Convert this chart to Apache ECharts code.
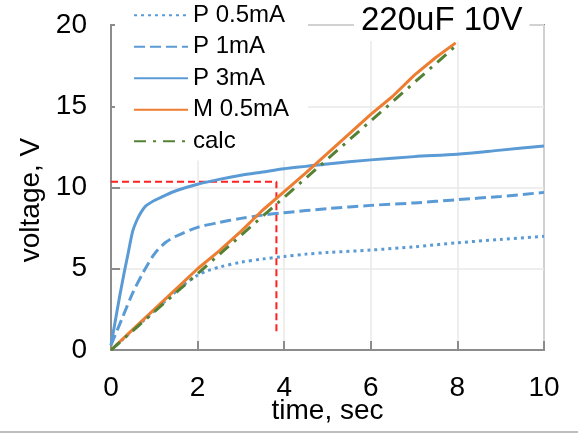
<!DOCTYPE html>
<html>
<head>
<meta charset="utf-8">
<script src="https://cdn.jsdelivr.net/npm/echarts@6/dist/echarts.min.js"></script>
<style>
html,body{margin:0;padding:0;background:#fff;}
#c{width:578px;height:433px;}
</style>
</head>
<body>
<div id="c"></div>
<script>
// ---- data ----
const seriesNames = ['P 0.5mA', 'P 1mA', 'P 3mA', 'M 0.5mA', 'calc'];
const xTicks = [0, 2, 4, 6, 8, 10];
const yTicks = [0, 5, 10, 15, 20];

const tP05 = [0, 0.5, 1, 1.5, 1.75, 2, 2.25, 2.5, 3, 3.5, 4, 4.5, 5, 6, 7, 8, 9, 10];
const vP05 = [0, 1.2, 2.4, 3.6, 4.15, 4.6, 4.9, 5.1, 5.4, 5.6, 5.75, 5.9, 6.0, 6.15, 6.35, 6.6, 6.8, 7.0];

const tP1 = [0, 0.25, 0.5, 0.75, 1, 1.25, 1.5, 2, 2.5, 3, 3.5, 4, 5, 6, 7, 8, 9, 10];
const vP1 = [0.3, 1.9, 3.5, 4.8, 5.9, 6.6, 7.0, 7.55, 7.85, 8.1, 8.3, 8.45, 8.7, 8.9, 9.05, 9.25, 9.45, 9.7];

const tP3 = [0, 0.1, 0.2, 0.3, 0.4, 0.5, 0.6, 0.7, 0.8, 1.0, 1.2, 1.5, 2, 2.5, 3, 3.5, 4, 4.5, 5, 6, 7, 8, 9, 10];
const vP3 = [0.3, 1.8, 3.3, 4.7, 6.0, 7.3, 8.0, 8.5, 8.85, 9.2, 9.45, 9.8, 10.2, 10.5, 10.75, 10.95, 11.15, 11.3, 11.45, 11.7, 11.9, 12.05, 12.3, 12.55];

const tM05 = [0, 0.5, 1, 1.5, 2, 2.5, 3, 3.5, 4, 4.5, 5, 5.5, 6, 6.5, 7, 7.5, 7.96];
const vM05 = [0, 1.25, 2.5, 3.75, 5.0, 6.1, 7.3, 8.6, 9.75, 10.9, 12.1, 13.3, 14.5, 15.6, 16.9, 18.0, 18.9];

const tCalc = [0, 8];
const vCalc = [0, 18.8];

const tMarker = [0, 3.82, 3.82];
const vMarker = [10.36, 10.36, 0.92];

// ---- helpers ----
const pairs = (xs, ys) => xs.map((x, i) => [x, ys[i]]);
const FONT = 'Liberation Sans, Arial, sans-serif';
const BLUE = '#5B9BD5', ORANGE = '#ED7D31', GREEN = '#548235', RED = '#FF2020';
const AXIS_GRAY = '#8c8c8c';

const chart = echarts.init(document.getElementById('c'), null, {renderer: 'canvas'});

chart.setOption({
  backgroundColor: '#fff',
  animation: false,
  title: {
    text: '220uF 10V',
    left: 354,
    top: 1,
    padding: [0, 7, 0, 7],
    backgroundColor: '#fff',
    textStyle: {fontFamily: FONT, fontSize: 33, fontWeight: 'normal', color: '#000', lineHeight: 40}
  },
  legend: {
    data: seriesNames,
    orient: 'vertical',
    left: 115,
    top: 0,
    padding: [2, 19, 6, 18],
    backgroundColor: '#fff',
    itemWidth: 54,
    itemHeight: 14,
    itemGap: 5,
    itemStyle: {color: 'rgba(0,0,0,0)', borderWidth: 0, opacity: 0},
    textStyle: {fontFamily: FONT, fontSize: 24, color: '#000', lineHeight: 26.5}
  },
  grid: {
    left: 111, right: 34, top: 25, bottom: 83,
    containLabel: false, outerBoundsMode: 'none',
    show: true, borderColor: AXIS_GRAY, borderWidth: 2, backgroundColor: 'transparent'
  },
  xAxis: {
    type: 'value', min: xTicks[0], max: xTicks[xTicks.length - 1], interval: 2,
    name: 'time, sec', nameLocation: 'middle', nameGap: 47, nameMoveOverlap: false,
    nameTextStyle: {fontFamily: FONT, fontSize: 28, color: '#000'},
    axisLine: {show: true, lineStyle: {color: AXIS_GRAY, width: 2}},
    axisTick: {show: true, inside: true, length: 9, lineStyle: {color: AXIS_GRAY, width: 2}},
    axisLabel: {fontFamily: FONT, fontSize: 28, color: '#000', margin: 24},
    splitLine: {show: true, lineStyle: {color: '#e8e8e8', width: 1.5}}
  },
  yAxis: {
    type: 'value', min: yTicks[0], max: yTicks[yTicks.length - 1], interval: 5,
    axisLine: {show: true, lineStyle: {color: AXIS_GRAY, width: 2}},
    axisTick: {show: true, inside: true, length: 9, lineStyle: {color: AXIS_GRAY, width: 2}},
    axisLabel: {fontFamily: FONT, fontSize: 28, color: '#000', margin: 24},
    splitLine: {show: true, lineStyle: {color: '#e8e8e8', width: 1.5}}
  },
  graphic: [
    {type: 'text', x: 31, y: 200, rotation: Math.PI / 2, z: 10,
     style: {text: 'voltage, V', font: '28px ' + FONT, fill: '#000', textAlign: 'center', textVerticalAlign: 'middle'}},
    {type: 'rect', shape: {x: 0, y: 431, width: 578, height: 2}, style: {fill: '#bdbdbd'}, z: 10}
  ],
  series: [
    {name: 'marker', type: 'line', data: pairs(tMarker, vMarker), symbol: 'none', silent: true,
     lineStyle: {color: RED, width: 2, type: [7, 4]}, z: 1},
    {name: seriesNames[0], type: 'line', data: pairs(tP05, vP05), symbol: 'none', smooth: 0.3,
     lineStyle: {color: BLUE, width: 3, type: [3, 4]}, itemStyle: {color: BLUE}, z: 2},
    {name: seriesNames[1], type: 'line', data: pairs(tP1, vP1), symbol: 'none', smooth: 0.3,
     lineStyle: {color: BLUE, width: 3, type: [11, 5]}, itemStyle: {color: BLUE}, z: 2},
    {name: seriesNames[2], type: 'line', data: pairs(tP3, vP3), symbol: 'none', smooth: 0.3,
     lineStyle: {color: BLUE, width: 3}, itemStyle: {color: BLUE}, z: 2},
    {name: seriesNames[3], type: 'line', data: pairs(tM05, vM05), symbol: 'none',
     lineStyle: {color: ORANGE, width: 3}, itemStyle: {color: ORANGE}, z: 3},
    {name: seriesNames[4], type: 'line', data: pairs(tCalc, vCalc), symbol: 'none',
     lineStyle: {color: GREEN, width: 3, type: [12, 7, 3, 7]}, itemStyle: {color: GREEN}, z: 4}
  ]
});
</script>
</body>
</html>
